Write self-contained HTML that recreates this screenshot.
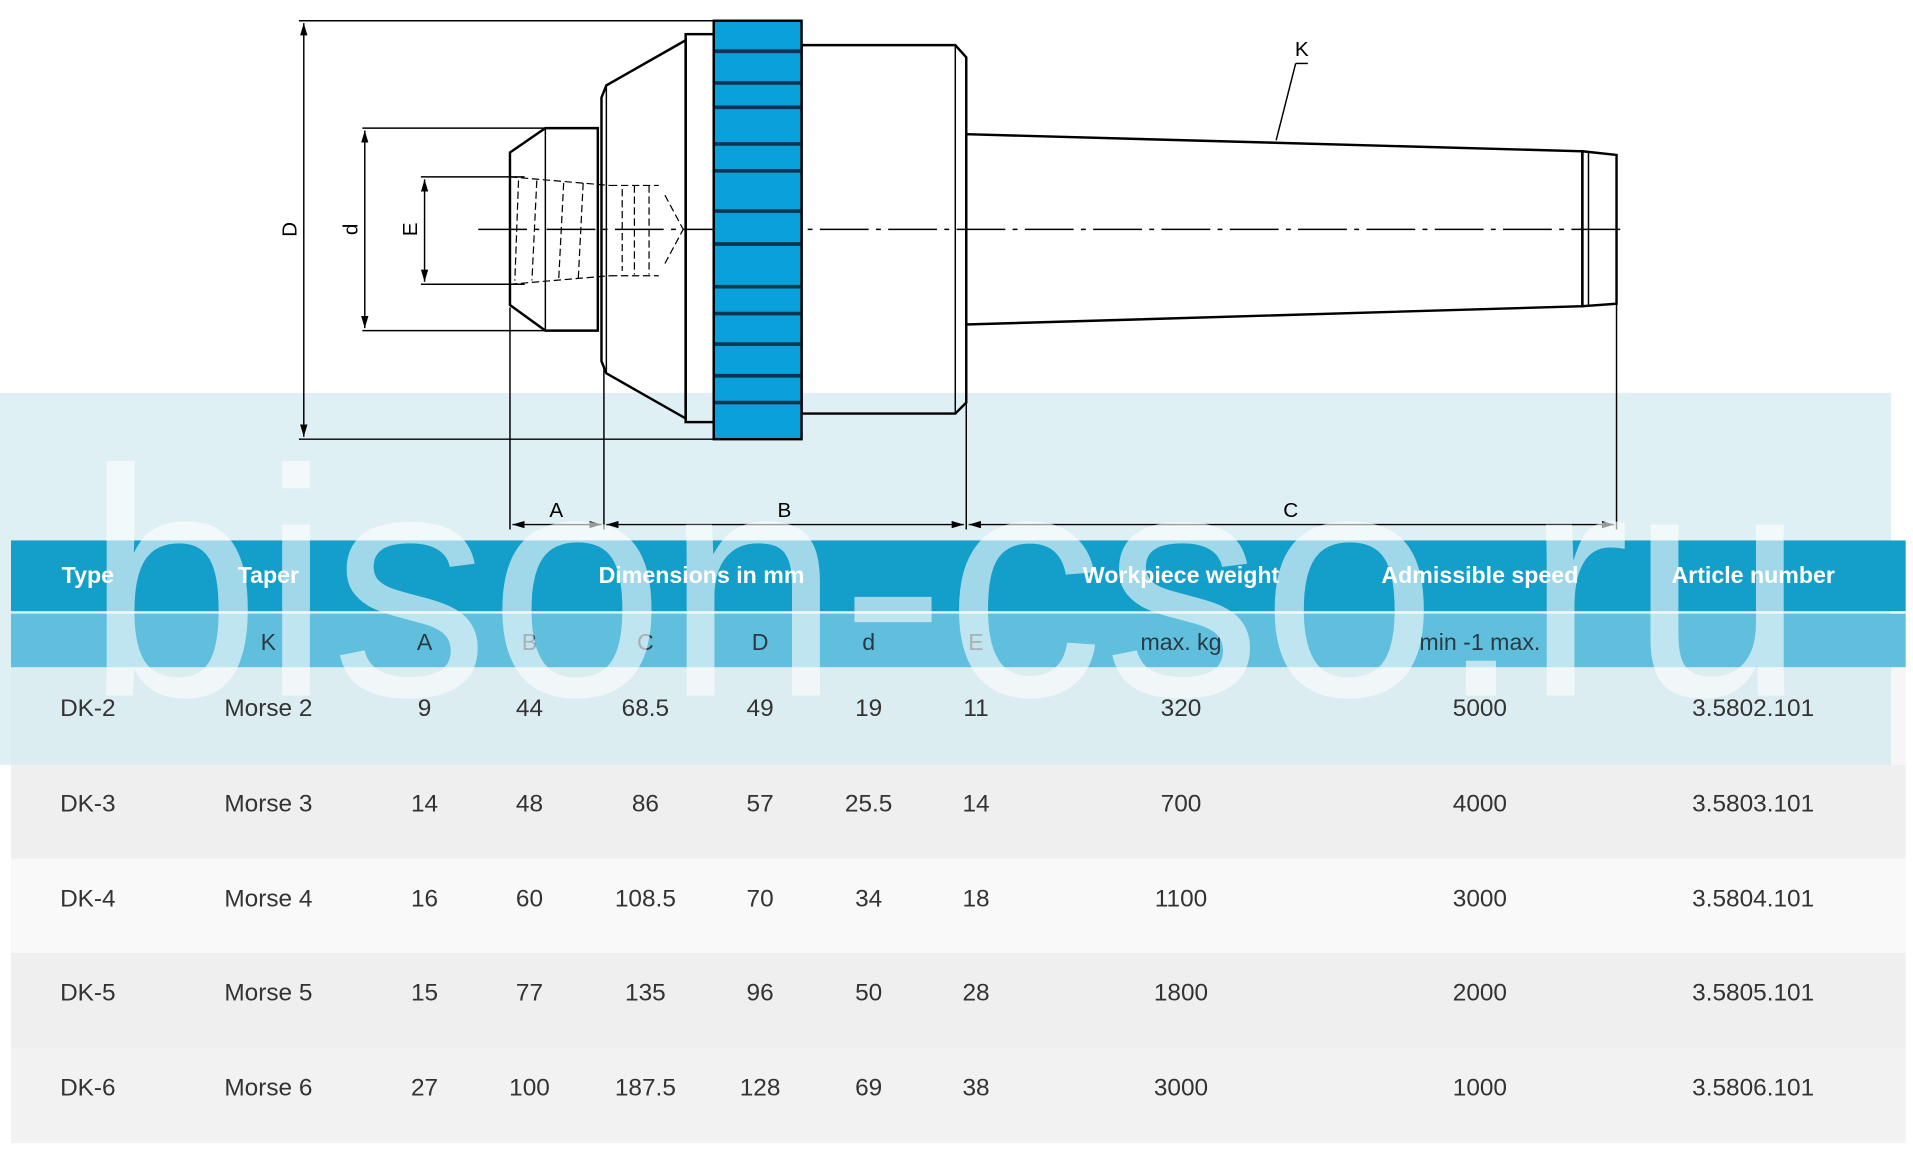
<!DOCTYPE html>
<html><head><meta charset="utf-8"><style>
html,body{margin:0;padding:0;background:#fff;}
svg{display:block;}
</style></head><body>
<svg width="1913" height="1157" viewBox="0 0 1568 948.4" preserveAspectRatio="none" xmlns="http://www.w3.org/2000/svg" font-family="Liberation Sans, sans-serif">
<defs>
<marker id="ar" markerWidth="10" markerHeight="6" refX="10" refY="3" orient="auto" markerUnits="userSpaceOnUse"><path d="M0,0 L10,3 L0,6 z" fill="#000"/></marker>
<marker id="al" markerWidth="10" markerHeight="6" refX="0" refY="3" orient="auto" markerUnits="userSpaceOnUse"><path d="M10,0 L0,3 L10,6 z" fill="#000"/></marker>
</defs>
<rect width="1568" height="948.4" fill="#fff"/>
<!-- watermark band -->
<rect x="0" y="322" width="1550" height="305" fill="#dff0f5"/>
<!-- table rows -->
<rect x="9" y="443" width="1553" height="58" fill="#139fca"/>
<rect x="9" y="503" width="1553" height="44" fill="#5fbfdc"/>
<rect x="9" y="547" width="1541" height="80" fill="#dcedf2"/>
<rect x="1550" y="547" width="12" height="80" fill="#f6f6f6"/>
<rect x="9" y="627" width="1553" height="77" fill="#efefef"/>
<rect x="9" y="704" width="1553" height="77" fill="#f9f9f9"/>
<rect x="9" y="781" width="1553" height="78" fill="#efefef"/>
<rect x="9" y="859" width="1553" height="78" fill="#f2f2f2"/>
<!-- drawing -->
<g stroke="#000" fill="none" stroke-width="1.2">
<line x1="245" y1="17" x2="585" y2="17"/><line x1="245" y1="360" x2="585" y2="360"/>
<line x1="249" y1="19" x2="249" y2="358" marker-start="url(#al)" marker-end="url(#ar)"/>
<line x1="297" y1="105" x2="447" y2="105"/><line x1="297" y1="271" x2="447" y2="271"/>
<line x1="299" y1="107" x2="299" y2="269" marker-start="url(#al)" marker-end="url(#ar)"/>
<line x1="345" y1="145" x2="430" y2="145"/><line x1="345" y1="233" x2="430" y2="233"/>
<line x1="348" y1="147" x2="348" y2="231" marker-start="url(#al)" marker-end="url(#ar)"/>
<line x1="392" y1="188" x2="1333" y2="188" stroke-dasharray="40,6,4,6"/>
<g stroke-width="2">
<polygon points="418,125 447,105 490,105 490,271 447,271 418,250"/>
<line x1="447" y1="105" x2="447" y2="271" stroke-width="1.2"/>
<polygon points="493,80 497,70 562,33 562,343 497,306 493,296"/>
<line x1="497" y1="70" x2="497" y2="306" stroke-width="1.2"/>
<rect x="562" y="28" width="23" height="318"/>
<polygon points="657,37 783,37 792,47 792,330 783,339 657,339"/>
<line x1="783" y1="37" x2="783" y2="339" stroke-width="1.2"/>
<polygon points="792,110 1297,124 1297,251 792,266"/>
<polygon points="1297,124 1325,127 1325,249 1297,251"/>
<line x1="1302" y1="124" x2="1302" y2="251" stroke-width="1.2"/>
</g>
<g stroke-dasharray="6,3" stroke-width="1">
<line x1="418" y1="145" x2="500" y2="152"/><line x1="418" y1="233" x2="500" y2="226"/>
<line x1="425" y1="148" x2="422" y2="230"/><line x1="440" y1="148" x2="436" y2="230"/>
<line x1="462" y1="150" x2="458" y2="228"/><line x1="478" y1="150" x2="474" y2="228"/>
<line x1="510" y1="155" x2="510" y2="222"/><line x1="520" y1="152" x2="520" y2="225"/>
<line x1="532" y1="152" x2="532" y2="225"/><line x1="545" y1="160" x2="560" y2="188"/><line x1="545" y1="216" x2="560" y2="188"/>
<line x1="500" y1="152" x2="540" y2="152"/><line x1="500" y1="226" x2="540" y2="226"/>
</g>
<line x1="1046" y1="115" x2="1062" y2="52"/><line x1="1062" y1="52" x2="1072" y2="52"/>
<line x1="418" y1="252" x2="418" y2="434"/><line x1="495" y1="300" x2="495" y2="434"/>
<line x1="792" y1="330" x2="792" y2="434"/><line x1="1325" y1="250" x2="1325" y2="434"/>
<line x1="420" y1="430" x2="493" y2="430" marker-start="url(#al)" marker-end="url(#ar)"/>
<line x1="497" y1="430" x2="790" y2="430" marker-start="url(#al)" marker-end="url(#ar)"/>
<line x1="794" y1="430" x2="1323" y2="430" marker-start="url(#al)" marker-end="url(#ar)"/>
</g>
<!-- knurled ring -->
<rect x="585" y="17" width="72" height="343" fill="#0aa0dc" stroke="#000" stroke-width="2"/>
<g stroke="#0b3550" stroke-width="3">
<line x1="586" y1="42" x2="656" y2="42"/><line x1="586" y1="68" x2="656" y2="68"/>
<line x1="586" y1="88" x2="656" y2="88"/><line x1="586" y1="118" x2="656" y2="118"/>
<line x1="586" y1="140" x2="656" y2="140"/><line x1="586" y1="173" x2="656" y2="173"/>
<line x1="586" y1="200" x2="656" y2="200"/><line x1="586" y1="235" x2="656" y2="235"/>
<line x1="586" y1="257" x2="656" y2="257"/><line x1="586" y1="282" x2="656" y2="282"/>
<line x1="586" y1="308" x2="656" y2="308"/><line x1="586" y1="330" x2="656" y2="330"/>
</g>
<g font-size="17" fill="#000" text-anchor="middle">
<text transform="translate(243,188) rotate(-90)">D</text>
<text transform="translate(293,188) rotate(-90)">d</text>
<text transform="translate(342,188) rotate(-90)">E</text>
<text x="456" y="424">A</text><text x="643" y="424">B</text><text x="1058" y="424">C</text>
<text x="1067" y="46">K</text>
</g>
<!-- header text -->
<g font-size="19" font-weight="bold" fill="#fff" text-anchor="middle">
<text x="72" y="478">Type</text><text x="220" y="478">Taper</text><text x="575" y="478">Dimensions in mm</text>
<text x="968" y="478">Workpiece weight</text><text x="1213" y="478">Admissible speed</text><text x="1437" y="478">Article number</text>
</g>
<g font-size="19" fill="#2a3a44" text-anchor="middle">
<text x="220" y="533">K</text><text x="348" y="533">A</text><text x="434" y="533">B</text><text x="529" y="533">C</text>
<text x="623" y="533">D</text><text x="712" y="533">d</text><text x="800" y="533">E</text>
<text x="968" y="533">max. kg</text><text x="1213" y="533">min -1 max.</text>
</g>
<g font-size="20" fill="#333" text-anchor="middle">
<g transform="translate(0,587)"><text x="72">DK-2</text><text x="220">Morse 2</text><text x="348">9</text><text x="434">44</text><text x="529">68.5</text><text x="623">49</text><text x="712">19</text><text x="800">11</text><text x="968">320</text><text x="1213">5000</text><text x="1437">3.5802.101</text></g>
<g transform="translate(0,665)"><text x="72">DK-3</text><text x="220">Morse 3</text><text x="348">14</text><text x="434">48</text><text x="529">86</text><text x="623">57</text><text x="712">25.5</text><text x="800">14</text><text x="968">700</text><text x="1213">4000</text><text x="1437">3.5803.101</text></g>
<g transform="translate(0,743)"><text x="72">DK-4</text><text x="220">Morse 4</text><text x="348">16</text><text x="434">60</text><text x="529">108.5</text><text x="623">70</text><text x="712">34</text><text x="800">18</text><text x="968">1100</text><text x="1213">3000</text><text x="1437">3.5804.101</text></g>
<g transform="translate(0,820)"><text x="72">DK-5</text><text x="220">Morse 5</text><text x="348">15</text><text x="434">77</text><text x="529">135</text><text x="623">96</text><text x="712">50</text><text x="800">28</text><text x="968">1800</text><text x="1213">2000</text><text x="1437">3.5805.101</text></g>
<g transform="translate(0,898)"><text x="72">DK-6</text><text x="220">Morse 6</text><text x="348">27</text><text x="434">100</text><text x="529">187.5</text><text x="623">128</text><text x="712">69</text><text x="800">38</text><text x="968">3000</text><text x="1213">1000</text><text x="1437">3.5806.101</text></g>
</g>
<!-- watermark text -->
<text x="70" y="570" font-size="265" fill="#fff" opacity="0.6" textLength="1410" lengthAdjust="spacingAndGlyphs">bison-cso.ru</text>
</svg>
</body></html>
